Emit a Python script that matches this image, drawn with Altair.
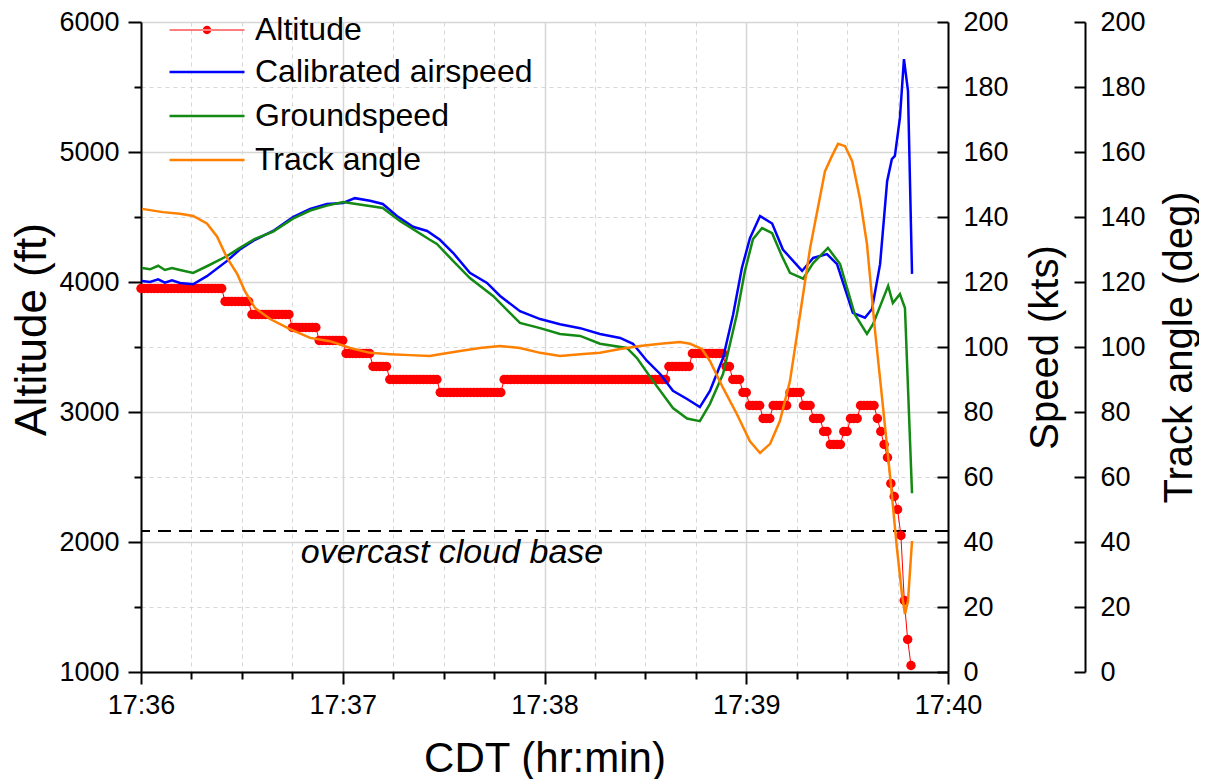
import altair as alt
import pandas as pd

# ---------------- data ----------------
# Altitude (ft): constant-altitude runs of 1-second samples (start s, end s, value)
RUN_START = [0, 25, 33, 45, 53, 61, 69, 74, 89, 108, 157, 164, 174, 176, 179, 181, 185, 188, 193,
             197, 200, 203, 205, 209, 211, 214, 219, 220, 221, 222, 223, 224, 225, 226, 227, 228, 229]
RUN_END = [24, 32, 44, 52, 60, 68, 73, 88, 107, 156, 163, 173, 175, 178, 180, 184, 187, 192, 196,
           199, 202, 204, 208, 210, 213, 218, 219, 220, 221, 222, 223, 224, 225, 226, 227, 228, 229]
RUN_ALT = [3950, 3850, 3750, 3650, 3550, 3450, 3350, 3250, 3150, 3250, 3350, 3450, 3350, 3250, 3150,
           3050, 2950, 3050, 3150, 3050, 2950, 2850, 2750, 2850, 2950, 3050, 2950, 2850, 2750, 2650,
           2450, 2350, 2250, 2050, 1550, 1250, 1050]

# Calibrated airspeed (kts), time in seconds after 17:36:00
CAS_T = [0.3, 2.7, 5.1, 7.1, 9.2, 11.6, 15.5, 19.6, 25.6, 29.4, 33.9, 39.3, 45.2, 50.3, 55.3, 60.1,
         63.6, 68.1, 71.9, 76.1, 80.9, 85.1, 88.9, 92.8, 97.8, 102.9, 106.8, 112.7, 118.7, 124.6,
         130.6, 136.5, 142.5, 146.3, 150.5, 154.4, 158.2, 162.4, 166.2, 169.2, 173.1, 176.1, 178.7,
         181.1, 184.1, 187.7, 190.9, 196.6, 199.9, 204.0, 207.0, 211.7, 215.3, 217.4, 219.8, 221.9,
         223.3, 224.2, 225.7, 226.9, 228.1, 229.3]
CAS_V = [120.3, 120.0, 120.8, 119.8, 120.5, 119.7, 119.3, 121.8, 126.5, 130.0, 133.0, 135.7, 140.0,
         142.5, 144.0, 144.3, 145.8, 145.0, 144.0, 140.3, 137.0, 135.7, 133.0, 129.0, 122.8, 119.7,
         115.7, 111.0, 108.6, 107.0, 105.8, 104.0, 102.8, 101.0, 95.7, 91.7, 86.5, 84.0, 81.5, 86.5,
         96.6, 110.0, 124.3, 133.5, 140.3, 138.0, 130.0, 123.4, 127.4, 128.6, 125.5, 110.5, 109.0,
         111.7, 125.5, 151.0, 157.8, 158.8, 170.5, 188.6, 178.8, 122.5]

# Groundspeed (kts)
GS_T = [0.3, 2.7, 5.1, 7.1, 9.2, 11.6, 15.5, 19.9, 25.6, 29.4, 33.9, 39.3, 45.2, 50.3, 55.3, 60.1,
        66.0, 71.9, 77.0, 85.9, 88.0, 92.8, 97.8, 104.7, 112.7, 118.7, 124.6, 130.6, 136.5, 144.5,
        147.5, 152.3, 158.2, 162.4, 166.2, 169.2, 173.1, 177.2, 179.6, 182.0, 184.7, 187.7, 190.6,
        193.0, 196.9, 199.9, 204.3, 207.9, 212.3, 215.9, 217.7, 222.2, 223.6, 225.7, 227.2, 229.3]
GS_V = [124.3, 123.9, 125.0, 123.7, 124.3, 123.7, 122.8, 125.0, 128.0, 130.5, 133.3, 135.5, 139.5,
        142.0, 143.5, 144.6, 143.7, 142.8, 138.8, 133.0, 131.7, 126.5, 121.2, 115.7, 107.4, 105.8,
        104.0, 103.4, 101.0, 99.7, 96.6, 89.5, 81.2, 78.0, 77.2, 82.5, 91.7, 110.0, 123.4, 133.2,
        136.6, 135.0, 128.0, 122.8, 121.0, 125.8, 130.5, 125.5, 110.0, 104.0, 107.0, 118.8, 113.5,
        116.3, 112.0, 55.0]

# Track angle (deg)
TRK_T = [0.3, 6.5, 11.6, 15.5, 19.6, 22.6, 25.6, 28.6, 30.9, 33.9, 38.4, 44.3, 50.3, 56.2, 62.2,
         68.1, 74.1, 80.0, 85.9, 88.9, 94.9, 100.8, 106.8, 112.7, 118.7, 124.6, 130.6, 136.5, 142.5,
         148.4, 154.4, 160.3, 163.3, 166.8, 169.2, 173.1, 177.2, 181.1, 184.1, 187.1, 190.0, 193.0,
         196.0, 199.0, 203.4, 205.5, 207.3, 209.4, 211.5, 213.8, 215.9, 218.3, 220.4, 222.8, 224.8,
         226.3, 227.2, 228.1, 229.3]
TRK_V = [142.5, 141.5, 141.0, 140.3, 138.0, 134.0, 127.4, 122.5, 117.2, 112.0, 108.6, 105.5, 102.8,
         101.8, 99.7, 98.2, 97.8, 97.5, 97.2, 97.8, 98.8, 99.7, 100.3, 99.7, 98.2, 97.2, 97.8, 98.2,
         99.4, 100.3, 101.0, 101.5, 101.0, 99.4, 95.7, 87.4, 79.4, 71.0, 67.4, 70.2, 77.2, 89.5,
         110.0, 130.5, 154.0, 158.8, 162.5, 161.8, 157.2, 145.8, 131.7, 105.0, 84.3, 60.0, 38.2,
         24.0, 17.8, 21.8, 40.3]

CLOUD_BASE = [2085]
CLOUD_LABEL = ["overcast cloud base"]
CLOUD_LABEL_POS = [92.5, 1915]

SERIES = ["Altitude", "Calibrated airspeed", "Groundspeed", "Track angle"]
COLORS = ["#ff0000", "#0000ff", "#138a13", "#ff8000"]

X_TICKS = list(range(0, 241, 15))
ALT_TICKS = list(range(1000, 6001, 500))
SPD_TICKS = list(range(0, 201, 20))

# ---------------- tables ----------------
alt_rows = []
for s, e, a in zip(RUN_START, RUN_END, RUN_ALT):
    for t in range(s, e + 1):
        alt_rows.append({"t": t, "alt": a, "series": SERIES[0]})
alt_df = pd.DataFrame(alt_rows)

spd_df = pd.concat([
    pd.DataFrame({"t": CAS_T, "v": CAS_V, "series": SERIES[1]}),
    pd.DataFrame({"t": GS_T, "v": GS_V, "series": SERIES[2]}),
])
trk_df = pd.DataFrame({"t": TRK_T, "v": TRK_V, "series": SERIES[3]})
cloud_df = pd.DataFrame({"alt": CLOUD_BASE})
label_df = pd.DataFrame({"t": [CLOUD_LABEL_POS[0]], "alt": [CLOUD_LABEL_POS[1]], "label": CLOUD_LABEL})

FONT = "Liberation Sans"
W, H = 807, 650
RIGHT2 = 137
LW = 2.5


def cond(test, a, b):
    return {"condition": {"test": test, "value": a}, "value": b}


GRID_MAJOR = "#d6d6d6"

x_enc = alt.X(
    "t:Q",
    scale=alt.Scale(domain=[0, 240], nice=False, zero=False),
    axis=alt.Axis(
        values=X_TICKS,
        labelExpr="datum.value % 60 === 0 ? '17:' + (36 + datum.value / 60) : ''",
        tickSize=cond("datum.value % 60 === 0", 12, 7),
        grid=True,
        gridColor=GRID_MAJOR,
        gridWidth=cond("datum.value % 60 === 0", 1.5, 1),
        gridDash=cond("datum.value % 60 === 0", [], [4, 4]),
        labelFlush=False,
        labelOverlap=False,
        labelPadding=8,
        title="CDT (hr:min)",
        titleFontSize=42,
        titlePadding=20,
    ),
)

alt_y_axis = alt.Axis(
    orient="left",
    values=ALT_TICKS,
    format="d",
    labelExpr="datum.value % 1000 === 0 ? datum.label : ''",
    tickSize=cond("datum.value % 1000 === 0", 13, 7),
    grid=True,
    gridColor=GRID_MAJOR,
    gridWidth=cond("datum.value % 1000 === 0", 1.5, 1),
    gridDash=cond("datum.value % 1000 === 0", [], [4, 4]),
    labelOverlap=False,
    labelPadding=9,
    title="Altitude (ft)",
    titleFontSize=44,
    titleX=-109,
    titleY=307,
    titleAngle=270,
    titleAlign="center",
    titleBaseline="middle",
)


def right_axis(title, off, tx):
    return alt.Axis(
        orient="left",
        offset=-off,
        values=SPD_TICKS,
        tickSize=11,
        labelAlign="left",
        labelPadding=-26,
        labelOverlap=False,
        grid=False,
        title=title,
        titleX=tx,
        titleY=H / 2,
        titleAngle=270,
        titleAlign="center",
        titleBaseline="middle",
    )


alt_scale = alt.Scale(domain=[1000, 6000], nice=False, zero=False)
spd_scale = alt.Scale(domain=[0, 200], nice=False, zero=False)
trk_scale = alt.Scale(domain=[0, 200], nice=False, zero=False)

fill_scale = alt.Scale(domain=[SERIES[0]], range=[COLORS[0]])
stroke_scale = alt.Scale(domain=SERIES[1:], range=COLORS[1:])

legend_alt = alt.Legend(
    title=None,
    orient="none",
    legendX=50,
    legendY=-8,
    symbolType="M-3.75,-0.05H3.75V0.05H-3.75ZM-0.42,0A0.42,0.42 0 1,0 0.42,0A0.42,0.42 0 1,0 -0.42,0Z",
    symbolSize=400,
    symbolOpacity=1,
    labelFontSize=32,
    labelFont=FONT,
    labelOffset=32,
    labelLimit=600,
    labelColor="black",
    padding=0,
)
legend_lines = alt.Legend(
    title=None,
    orient="none",
    legendX=50,
    legendY=34,
    symbolType="M-3.75,0H3.75",
    symbolSize=400,
    symbolStrokeWidth=LW,
    labelFontSize=32,
    labelFont=FONT,
    labelOffset=32,
    labelLimit=600,
    labelColor="black",
    rowPadding=12,
    padding=0,
)

alt_line = alt.Chart(alt_df).mark_line(color=COLORS[0], strokeWidth=1).encode(
    x=x_enc, y=alt.Y("alt:Q", scale=alt_scale, axis=alt_y_axis)
)
alt_pts = alt.Chart(alt_df).mark_circle(size=90, opacity=1).encode(
    x=x_enc,
    y=alt.Y("alt:Q", scale=alt_scale, axis=alt_y_axis),
    fill=alt.Fill("series:N", scale=fill_scale, legend=legend_alt),
)
cloud_rule = alt.Chart(cloud_df).mark_rule(color="black", strokeWidth=2, strokeDash=[13, 8]).encode(
    y=alt.Y("alt:Q", scale=alt_scale, axis=alt_y_axis)
)
cloud_text = alt.Chart(label_df).mark_text(
    font=FONT, fontSize=34, fontStyle="italic", color="black", align="center", baseline="middle"
).encode(x=x_enc, y=alt.Y("alt:Q", scale=alt_scale, axis=alt_y_axis), text="label:N")

alt_layer = alt.layer(cloud_rule, alt_line, alt_pts, cloud_text)

spd_layer = alt.Chart(spd_df).mark_line(strokeWidth=LW).encode(
    x=x_enc,
    y=alt.Y("v:Q", scale=spd_scale, axis=right_axis("Speed (kts)", W, 97)),
    stroke=alt.Stroke("series:N", scale=stroke_scale, legend=legend_lines),
)
trk_layer = alt.Chart(trk_df).mark_line(strokeWidth=LW).encode(
    x=x_enc,
    y=alt.Y("v:Q", scale=trk_scale, axis=right_axis("Track angle (deg)", W + RIGHT2, 94)),
    stroke=alt.Stroke("series:N", scale=stroke_scale, legend=legend_lines),
)

chart = (
    alt.layer(alt_layer, spd_layer, trk_layer)
    .resolve_scale(y="independent")
    .properties(width=W, height=H, padding={"left": 2, "top": 0, "right": 0, "bottom": 0})
    .configure_view(strokeWidth=0)
    .configure_axis(
        domainColor="black",
        domainWidth=2,
        tickColor="black",
        tickWidth=2,
        labelColor="black",
        titleColor="black",
        labelFont=FONT,
        titleFont=FONT,
        labelFontSize=27,
        titleFontSize=40,
        titleFontWeight="normal",
    )
)

chart.save("out.html", embed_options={"renderer": "svg", "actions": False})
